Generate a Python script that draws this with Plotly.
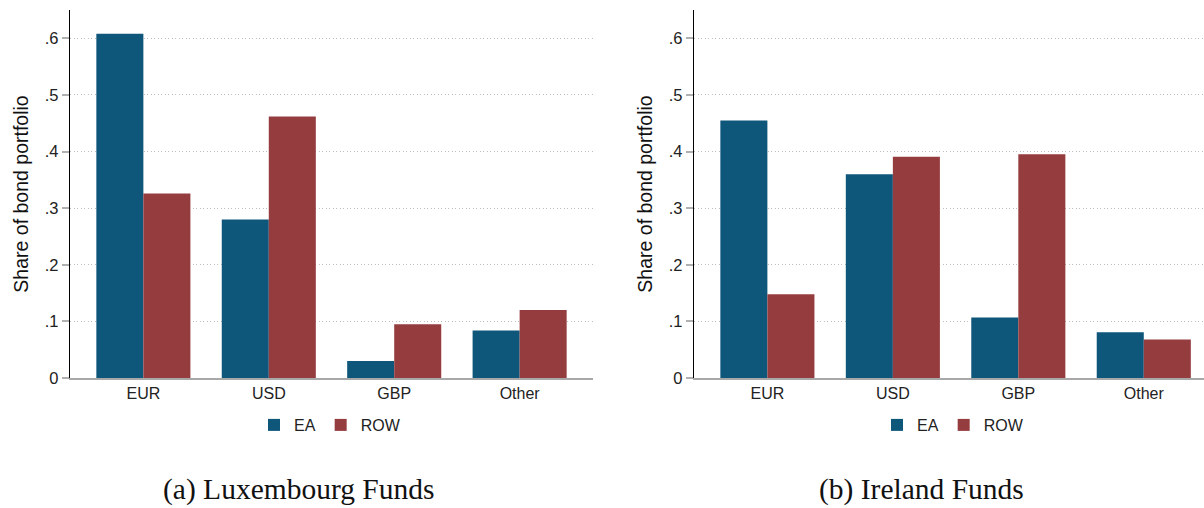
import plotly.graph_objects as go

# Currency composition of bond portfolios, by investor region
currencies = ["EUR", "USD", "GBP", "Other"]
lux_ea = [0.608, 0.280, 0.030, 0.084]
lux_row = [0.326, 0.462, 0.095, 0.120]
irl_ea = [0.455, 0.360, 0.107, 0.081]
irl_row = [0.148, 0.391, 0.395, 0.068]
y_ticks = [0, 0.1, 0.2, 0.3, 0.4, 0.5, 0.6]
y_tick_labels = ["0", ".1", ".2", ".3", ".4", ".5", ".6"]
captions = ["(a) Luxembourg Funds", "(b) Ireland Funds"]

C_EA = "#0F567B"
C_ROW = "#953C3E"
FONT = "Liberation Sans, Arial, sans-serif"

fig = go.Figure()

panels = [
    (lux_ea, lux_row, "x", "y", "legend"),
    (irl_ea, irl_row, "x2", "y2", "legend2"),
]
for ea, row, xa, ya, lg in panels:
    fig.add_trace(go.Bar(x=currencies, y=ea, name="EA", marker_color=C_EA,
                         marker_line_width=0, xaxis=xa, yaxis=ya, legend=lg))
    fig.add_trace(go.Bar(x=currencies, y=row, name="ROW", marker_color=C_ROW,
                         marker_line_width=0, xaxis=xa, yaxis=ya, legend=lg))

W, H = 1204, 508
y_dom = [(H - 378) / H, (H - 10) / H]

common_x = dict(
    showline=True, linecolor="#a8a8a8", linewidth=2, ticks="",
    showgrid=False, tickfont=dict(family=FONT, size=16, color="#222"),
    fixedrange=True, automargin=False,
)
common_y = dict(
    range=[0, 0.65], tickvals=y_ticks, ticktext=y_tick_labels,
    showline=True, linecolor="#000", linewidth=1.3,
    ticks="outside", ticklen=7, tickwidth=2, tickcolor="#b0b0b0",
    showgrid=True, gridcolor="#bdbdbd", griddash="1px,2.5px", gridwidth=1,
    zeroline=False, tickfont=dict(family=FONT, size=16.5, color="#222"),
    title=dict(text="Share of bond portfolio",
               font=dict(family=FONT, size=19.5, color="#111"), standoff=10),
    domain=y_dom, automargin=False,
)

legend_common = dict(
    orientation="h", xanchor="center", yanchor="middle",
    y=(H - 425) / H, font=dict(family=FONT, size=16, color="#222"),
    bgcolor="rgba(0,0,0,0)", itemsizing="constant", traceorder="normal",
)

fig.update_layout(
    width=W, height=H,
    margin=dict(l=0, r=0, t=0, b=0),
    paper_bgcolor="white", plot_bgcolor="white",
    barmode="group", bargap=0.25, bargroupgap=0,
    xaxis=dict(domain=[70 / W, 593 / W], range=[-0.585, 3.585], **common_x),
    xaxis2=dict(domain=[694 / W, 1.0], range=[-0.585, 3.48], **common_x),
    yaxis=dict(anchor="x", **common_y),
    yaxis2=dict(anchor="x2", **common_y),
    legend=dict(x=330 / W, **legend_common),
    legend2=dict(x=953 / W, **legend_common),
    showlegend=True,
)

for text, cx in zip(captions, [298 / W, 921 / W]):
    fig.add_annotation(
        text=text, x=cx, y=(H - 489) / H, xref="paper", yref="paper",
        xanchor="center", yanchor="middle", showarrow=False,
        font=dict(family="Liberation Serif, Times New Roman, serif", size=29.5, color="#111"),
    )

fig.write_html("out.html")
